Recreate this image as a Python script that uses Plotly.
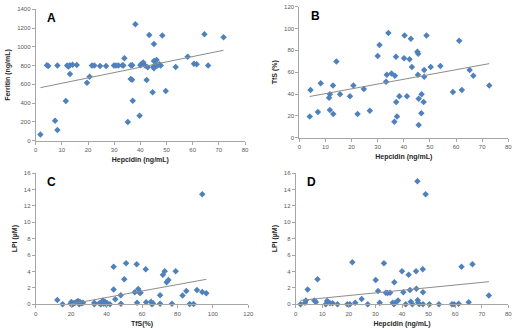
import numpy as np
import plotly.graph_objects as go
from plotly.subplots import make_subplots

# Panel A: hepcidin vs ferritin
a_hepcidin = [1.8, 4.3, 4.8, 7.4, 8.3, 8.3, 11.5, 12.0, 12.5, 13.1, 13.1, 14.1, 15.7,
              19.6, 20.6, 21.5, 22.4, 24.6, 26.9, 29.9, 30.7, 31.6, 33.1, 33.9, 33.5,
              35.2, 36.3, 36.8, 36.4, 36.9, 37.1, 38.1, 39.7, 40.0, 40.4, 41.1, 41.8,
              42.4, 42.8, 43.4, 44.7, 45.2, 45.2, 45.0, 45.2, 45.9, 46.2, 46.6, 47.3,
              47.8, 48.4, 49.7, 53.5, 58.1, 60.5, 61.5, 64.5, 65.9, 71.8]
a_ferritin = [67, 805, 795, 213, 114, 800, 423, 800, 790, 710, 803, 810, 807,
              618, 682, 800, 800, 796, 796, 800, 800, 800, 803, 878, 800,
              200, 657, 650, 803, 803, 426, 1240, 267, 803, 817, 832, 800,
              647, 782, 1127, 515, 849, 1031, 789, 771, 807, 860, 800, 814,
              800, 1120, 530, 785, 895, 821, 814, 1134, 800, 1102]

# Panel B: hepcidin vs TfS
b_hepcidin = [4.0, 4.3, 7.1, 8.2, 11.4, 11.7, 11.7, 12.9, 13.0, 14.2, 15.6, 19.4,
              20.7, 22.3, 24.7, 27.0, 30.0, 30.7, 33.2, 33.5, 34.1, 35.3, 36.6, 36.4,
              37.0, 37.1, 37.4, 38.3, 40.1, 40.3, 41.2, 42.2, 42.7, 43.1, 45.2, 45.5,
              45.4, 45.7, 45.7, 46.8, 46.7, 47.8, 47.6, 47.8, 48.7, 50.3, 54.0, 58.8,
              61.2, 62.2, 65.2, 66.6, 72.7]
b_tfs = [19.5, 43.7, 23.5, 49.8, 36.6, 39.7, 25.3, 47.9, 21.7, 69.9, 39.7, 37.9,
         47.9, 21.7, 44.6, 24.7, 74.8, 84.9, 51.3, 57.7, 95.9, 58.9, 56.8, 14.7,
         74.2, 32.7, 19.5, 37.9, 72.7, 93.7, 37.9, 71.8, 90.7, 64.7, 78.8, 76.9,
         57.7, 35.7, 11.6, 39.7, 22.3, 62.0, 32.7, 55.9, 93.7, 64.7, 65.6, 41.8,
         88.9, 43.7, 62.0, 56.8, 47.9]

# Panel C: TfS vs LPI
c_tfs = [12.2, 15.2, 19.7, 20.1, 20.9, 21.6, 22.4, 23.1, 23.9, 24.3, 24.6, 25.0,
         26.0, 26.7, 33.1, 33.1, 35.9, 36.7, 37.6, 38.0, 38.4, 39.3, 39.9, 40.4,
         41.9, 44.0, 44.0, 44.9, 48.0, 48.1, 50.0, 51.0, 55.9, 57.0, 57.2, 57.9,
         58.7, 59.2, 62.1, 62.3, 65.1, 65.6, 66.2, 70.2, 70.2, 71.8, 72.8, 73.9,
         74.9, 76.9, 79.0, 82.9, 85.0, 86.9, 89.1, 91.0, 94.0, 94.0, 96.3]
c_lpi = [0.53, 0, 0.08, 0.28, 0, 0.16, 0.2, 0.28, 0.4, 0.16, 0, 0.28,
         0.12, 0.2, 0.2, 0, 0.12, 0, 0.28, 0.45, 0.08, 0.28, 0, 0.12,
         0, 4.59, 1.79, 0.61, 1.10, 0.08, 3.05, 5.0, 1.46, 4.87, 0.2, 1.87,
         1.42, 1.42, 4.26, 0.24, 0.32, 0, 0.12, 1.1, 0.08, 3.61, 4.02, 2.68,
         2.96, 0.08, 4.02, 1.06, 1.62, 0.04, 0.04, 1.75, 13.4, 1.5, 1.34]

# Panel D: hepcidin vs LPI
d_hepcidin = [1.8, 3.5, 3.8, 4.5, 7.0, 7.6, 8.2, 11.3, 11.8, 12.3, 12.9, 13.9,
              15.7, 19.4, 20.4, 21.3, 22.4, 24.8, 27.1, 30.1, 31.0, 31.6, 33.2, 33.9,
              34.6, 35.5, 36.5, 37.0, 37.1, 37.5, 38.5, 40.0, 40.5, 41.4, 42.5, 43.0,
              43.3, 43.9, 45.3, 45.4, 45.8, 45.9, 46.1, 46.5, 47.8, 47.9, 47.9, 48.9,
              50.3, 53.9, 58.8, 59.6, 61.3, 62.4, 65.1, 66.5, 72.7]
d_lpi = [0, 0.2, 0.45, 1.79, 0.45, 0.28, 3.05, 0, 0.4, 0.28, 0.12, 0.12,
         0, 0, 0, 5.12, 0.2, 0.65, 0, 2.96, 1.62, 0.2, 5.0, 1.42,
         1.38, 1.42, 0.2, 0, 2.68, 0.2, 0.45, 4.02, 1.46, 0, 3.61, 1.75,
         0.32, 0, 4.02, 1.91, 15.0, 0.49, 0.2, 0.04, 4.26, 1.46, 0, 13.4,
         0, 0, 0, 0, 0.08, 4.59, 0.24, 4.87, 1.06]

# linear trendlines (slope, intercept) as drawn in the figure
trend_a = (5.69, 555)
trend_b = (0.438, 36.0)
trend_c = (0.0393, -0.74)
trend_d = (0.032, 0.43)

panels = [
    ("A", a_hepcidin, a_ferritin, trend_a, "Hepcidin (ng/mL)", "Ferritin (ng/mL)", [0, 80], 10, [0, 1400], 200),
    ("B", b_hepcidin, b_tfs, trend_b, "Hepcidin (ng/mL)", "TfS (%)", [0, 80], 10, [0, 120], 20),
    ("C", c_tfs, c_lpi, trend_c, "TfS(%)", "LPI (µM)", [0, 120], 20, [0, 16], 2),
    ("D", d_hepcidin, d_lpi, trend_d, "Hepcidin (ng/mL)", "LPI (µM)", [0, 80], 10, [0, 16], 2),
]

W, H = 520, 334
# plot boxes in pixels: (left, right, top, bottom)
boxes = [
    (35.7, 245.0, 9.3, 140.7),
    (299.3, 508.3, 6.7, 137.7),
    (35.7, 248.3, 173.0, 304.3),
    (295.7, 508.3, 173.0, 304.3),
]


def to_domain(box):
    x0, x1, y0, y1 = box
    return ([x0 / W, x1 / W], [1 - y1 / H, 1 - y0 / H])


fig = make_subplots(rows=2, cols=2)
font_family = "Liberation Sans, Arial, sans-serif"
blue = "#4F81BD"
axis_grey = "#a6a6a6"

for i, (label, xs, ys, (m, b), xt, yt, xr, xd, yr, yd) in enumerate(panels):
    row, col = i // 2 + 1, i % 2 + 1
    fig.add_trace(
        go.Scatter(
            x=xs, y=ys, mode="markers",
            marker={"symbol": "diamond", "size": 5, "color": blue},
            showlegend=False, cliponaxis=False,
        ),
        row=row, col=col,
    )
    lx = np.array([min(xs), max(xs)])
    fig.add_trace(
        go.Scatter(
            x=lx, y=m * lx + b, mode="lines",
            line={"color": "#8c8c8c", "width": 1},
            showlegend=False,
        ),
        row=row, col=col,
    )
    xdom, ydom = to_domain(boxes[i])
    ax = "" if i == 0 else str(i + 1)
    fig.update_layout({
        f"xaxis{ax}": dict(
            domain=xdom, range=xr, dtick=xd, showgrid=False, zeroline=False,
            showline=True, linecolor=axis_grey, linewidth=1, automargin=False,
            ticks="outside", ticklen=3, tickcolor=axis_grey,
            tickfont={"size": 6, "color": "#595959"},
            title={"text": f"<b>{xt}</b>", "font": {"size": 7, "color": "#262626"}, "standoff": 5},
        ),
        f"yaxis{ax}": dict(
            domain=ydom, range=yr, dtick=yd, showgrid=False, zeroline=False,
            showline=True, linecolor=axis_grey, linewidth=1, automargin=False,
            ticks="outside", ticklen=3, tickcolor=axis_grey,
            tickfont={"size": 6, "color": "#595959"},
            title={"text": f"<b>{yt}</b>", "font": {"size": 7, "color": "#262626"}, "standoff": 5},
        ),
    })
    fig.add_annotation(
        text=f"<b>{label}</b>", x=0.045, y=1.0, xref=f"x{ax} domain", yref=f"y{ax} domain",
        xanchor="left", yanchor="top", showarrow=False,
        font={"size": 12, "color": "black"},
    )

fig.update_layout(
    width=W, height=H,
    margin={"l": 0, "r": 0, "t": 0, "b": 0},
    paper_bgcolor="white", plot_bgcolor="white",
    font={"family": font_family},
)
# drop the page's default body margin so the figure fills the window
fig.write_html(
    "out.html",
    config={"displayModeBar": False},
    post_script="document.body.style.margin = '0';",
)
